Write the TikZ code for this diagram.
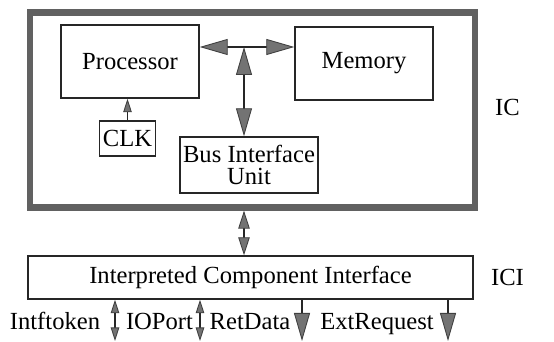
\documentclass[tikz,border=0pt]{standalone}
\usepackage{fontspec}
\setmainfont{Liberation Serif}
\usetikzlibrary{arrows.meta}

\tikzset{
    unit/.style={draw=black!85, line width=0.8pt, inner sep=0pt, align=center},
    wire/.style={draw=black!85, line width=0.7pt},
    bigtip/.tip={Triangle[length=0.56cm, width=0.32cm, fill=black!55, color=black!75, line width=0.5pt]},
    midtip/.tip={Triangle[length=0.36cm, width=0.23cm, fill=black!55, color=black!75, line width=0.5pt]},
    smalltip/.tip={Triangle[length=0.27cm, width=0.17cm, fill=black!55, color=black!75, line width=0.5pt]},
}

\begin{document}
\begin{tikzpicture}[every node/.style={font=\fontsize{14}{12.5}\selectfont}]
    \useasboundingbox (0, 0) rectangle (11.08, 6.84);

    % IC frame and its label
    \node[draw=black!62, line width=3.6pt, minimum width=8.90cm, minimum height=3.90cm] (ic) at (5.05, 4.64) {};
    \node (iclabel) at (10.15, 4.70) {IC};

    % Blocks inside the IC
    \node[unit, minimum width=2.76cm, minimum height=1.46cm] (proc) at (2.60, 5.61) {Processor};
    \node[unit, minimum width=2.76cm, minimum height=1.46cm] (mem) at (7.28, 5.57) {Memory};
    \node[unit, minimum width=1.12cm, minimum height=0.70cm] (clk) at (2.55, 4.07) {CLK};
    \node[unit, minimum width=2.76cm, minimum height=1.12cm] (biu) at (4.98, 3.54) {Bus Interface\\Unit};

    % Internal bus
    \coordinate (bus) at (4.88, 5.90);
    \draw[wire, bigtip-bigtip] (proc.east |- bus) -- (mem.west |- bus);
    \draw[wire, bigtip-bigtip] (bus) -- (bus |- biu.north);
    \draw[wire, -smalltip] (clk.north) -- (clk.north |- proc.south);

    % Interface layer
    \node[unit, minimum width=8.90cm, minimum height=0.86cm] (ici) at (5.01, 1.29) {Interpreted Component Interface};
    \node (icilabel) at (10.15, 1.29) {ICI};
    \draw[wire, midtip-midtip] (bus |- ic.south) -- (bus |- ici.north);

    % Ports
    \node[anchor=base] (intf) at (1.10, 0.25) {Intftoken};
    \node[anchor=base] (ioport) at (3.19, 0.25) {IOPort};
    \node[anchor=base] (retdata) at (5.00, 0.25) {RetData};
    \node[anchor=base] (extreq) at (7.54, 0.25) {ExtRequest};

    \coordinate (intfend) at (2.30, 0.02);
    \coordinate (ioend) at (4.00, 0.02);
    \coordinate (retend) at (6.04, 0.02);
    \coordinate (extend) at (8.96, 0.02);
    \draw[wire, smalltip-smalltip] (ici.south -| intfend) -- (intfend);
    \draw[wire, smalltip-smalltip] (ici.south -| ioend) -- (ioend);
    \draw[wire, -bigtip] (ici.south -| retend) -- (retend);
    \draw[wire, -bigtip] (ici.south -| extend) -- (extend);
\end{tikzpicture}
\end{document}
